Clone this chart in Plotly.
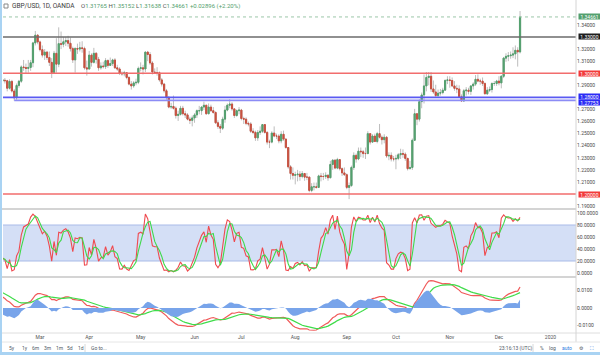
import plotly.graph_objects as go
import pandas as pd

# ---------------- data: GBP/USD daily, Jan 2 2019 .. Dec 13 2019 (business days) ----------------
open_ = [
 1.2750,1.2630,1.2630,1.2725,1.2785,1.2735,1.2745,1.2765,1.2845,1.2865,1.2870,1.2870,1.2995,1.2880,1.2875,1.2955,1.3045,1.3085,1.3190,1.3160,1.3085,1.3125,
 1.3115,1.3075,1.3040,1.2945,1.2935,1.2942,1.2938,1.2876,1.2932,1.2853,1.2797,1.2899,1.2934,1.3052,1.3047,1.3040,1.3048,1.3087,1.3251,1.3315,
 1.3259,1.3195,1.3150,1.3175,1.3130,1.3090,1.3005,1.3165,1.3075,1.3245,1.3240,1.3260,1.3270,1.3248,1.3204,1.3110,1.3205,1.3200,1.3210,1.3205,1.3045,
 1.3035,1.3150,1.3090,1.3165,1.3115,1.3045,1.3060,1.3055,1.3105,1.3065,1.3080,1.3110,1.3045,1.3035,1.3000,1.2995,1.3005,1.2965,1.2910,1.2895,1.2920,1.2925,
 1.3040,1.3045,1.3035,1.3175,1.3155,1.3085,1.3010,1.3005,1.3005,1.2945,1.2910,1.2855,1.2800,1.2720,1.2725,1.2710,1.2650,1.2660,1.2710,1.2665,1.2655,1.2620,1.2610,
 1.2630,1.2655,1.2690,1.2690,1.2720,1.2735,1.2665,1.2720,1.2690,1.2675,1.2590,1.2560,1.2545,1.2620,1.2695,1.2735,1.2745,1.2705,1.2650,1.2690,
 1.2695,1.2625,1.2620,1.2585,1.2580,1.2520,1.2510,1.2465,1.2510,1.2520,1.2575,1.2510,1.2430,1.2430,1.2505,1.2480,1.2480,1.2440,1.2495,1.2455,1.2385,1.2225,1.2170,
 1.2155,1.2160,1.2165,1.2145,1.2170,1.2140,1.2140,1.2030,1.2060,1.2060,1.2055,1.2150,1.2145,1.2145,1.2155,1.2135,1.2245,1.2280,1.2215,1.2285,1.2210,1.2175,
 1.2160,1.2055,1.2070,1.2220,1.2320,1.2290,1.2355,1.2350,1.2335,1.2335,1.2500,1.2430,1.2480,1.2435,1.2500,1.2470,1.2450,1.2470,1.2315,1.2320,1.2290,
 1.2290,1.2295,1.2325,1.2335,1.2330,1.2295,1.2210,1.2220,1.2445,1.2665,1.2620,1.2765,1.2820,1.2895,1.2965,1.2975,1.2870,1.2845,1.2815,1.2835,1.2840,1.2860,1.2940,
 1.2945,1.2940,1.2895,1.2875,1.2870,1.2805,1.2770,1.2855,1.2860,1.2850,1.2895,1.2910,1.2950,1.2935,1.2935,1.2915,1.2830,1.2860,1.2865,1.2915,1.2915,
 1.2935,1.2920,1.2975,1.3125,1.3140,1.3145,1.3150,1.3160,1.3190,1.31765]
high = [
 1.2770,1.2660,1.2740,1.2790,1.2790,1.2800,1.2790,1.2865,1.2890,1.2895,1.2895,1.3000,1.3000,1.2905,1.2990,1.3055,1.3115,1.3215,1.3215,1.3185,1.3145,1.3215,
 1.3130,1.3085,1.3050,1.2965,1.2975,1.2960,1.2945,1.2950,1.2945,1.2870,1.2915,1.2945,1.3065,1.3110,1.3080,1.3110,1.3110,1.3260,1.3350,1.3325,
 1.3270,1.3230,1.3200,1.3185,1.3180,1.3125,1.3185,1.3290,1.3380,1.3345,1.3300,1.3300,1.3310,1.3295,1.3220,1.3215,1.3245,1.3260,1.3265,1.3220,1.3105,
 1.3185,1.3165,1.3210,1.3175,1.3135,1.3090,1.3095,1.3125,1.3115,1.3130,1.3120,1.3125,1.3070,1.3050,1.3015,1.3020,1.3010,1.2975,1.2935,1.2935,1.2955,1.3055,
 1.3090,1.3070,1.3180,1.3185,1.3175,1.3100,1.3040,1.3050,1.3015,1.2960,1.2920,1.2870,1.2810,1.2755,1.2815,1.2725,1.2690,1.2730,1.2730,1.2690,1.2670,1.2640,1.2650,
 1.2670,1.2700,1.2730,1.2725,1.2765,1.2740,1.2750,1.2740,1.2720,1.2685,1.2610,1.2580,1.2640,1.2730,1.2750,1.2785,1.2760,1.2710,1.2700,1.2720,
 1.2705,1.2640,1.2635,1.2600,1.2595,1.2545,1.2525,1.2530,1.2560,1.2580,1.2580,1.2520,1.2450,1.2520,1.2560,1.2500,1.2495,1.2520,1.2525,1.2460,1.2390,1.2240,1.2220,
 1.2185,1.2200,1.2190,1.2190,1.2175,1.2175,1.2145,1.2090,1.2095,1.2095,1.2160,1.2175,1.2175,1.2180,1.2165,1.2275,1.2290,1.2290,1.2300,1.2290,1.2220,1.2220,
 1.2170,1.2095,1.2235,1.2345,1.2335,1.2385,1.2385,1.2365,1.2385,1.2520,1.2505,1.2495,1.2500,1.2515,1.2580,1.2485,1.2495,1.2480,1.2345,1.2345,1.2315,
 1.2325,1.2340,1.2375,1.2370,1.2345,1.2300,1.2275,1.2460,1.2705,1.2670,1.2785,1.2840,1.2990,1.3010,1.3010,1.3010,1.2940,1.2905,1.2865,1.2870,1.2880,1.2950,1.2975,
 1.2975,1.2965,1.2935,1.2905,1.2900,1.2825,1.2870,1.2885,1.2880,1.2900,1.2925,1.2985,1.2990,1.2955,1.2965,1.2925,1.2885,1.2890,1.2925,1.2935,1.2945,
 1.2975,1.2985,1.3135,1.3165,1.3175,1.3180,1.3215,1.3230,1.3215,1.35152]
low = [
 1.2595,1.2470,1.2620,1.2705,1.2700,1.2680,1.2700,1.2760,1.2815,1.2670,1.2810,1.2855,1.2865,1.2855,1.2860,1.2945,1.3010,1.3075,1.3120,1.3010,1.3065,1.3080,
 1.3040,1.3010,1.2920,1.2910,1.2920,1.2915,1.2850,1.2865,1.2840,1.2773,1.2780,1.2880,1.2920,1.3020,1.3000,1.3005,1.3020,1.3050,1.3230,1.3240,
 1.3180,1.3130,1.3110,1.3110,1.3060,1.2960,1.2995,1.3005,1.3050,1.3200,1.3215,1.3225,1.3220,1.3180,1.3085,1.3005,1.3160,1.3180,1.3170,1.3030,1.2980,
 1.3030,1.3055,1.3080,1.3080,1.3020,1.3030,1.3040,1.3035,1.3045,1.3060,1.3060,1.3035,1.3020,1.2985,1.2980,1.2975,1.2950,1.2900,1.2865,1.2880,1.2900,1.2910,
 1.3015,1.2990,1.3010,1.3100,1.3070,1.2990,1.2995,1.2980,1.2930,1.2890,1.2840,1.2780,1.2710,1.2705,1.2700,1.2625,1.2605,1.2650,1.2650,1.2630,1.2610,1.2580,1.2560,
 1.2590,1.2630,1.2660,1.2655,1.2695,1.2655,1.2660,1.2680,1.2665,1.2580,1.2540,1.2505,1.2530,1.2590,1.2685,1.2710,1.2690,1.2630,1.2640,1.2660,
 1.2610,1.2580,1.2570,1.2560,1.2505,1.2495,1.2440,1.2440,1.2490,1.2505,1.2500,1.2410,1.2380,1.2420,1.2470,1.2455,1.2420,1.2420,1.2440,1.2375,1.2210,1.2120,1.2120,
 1.2080,1.2105,1.2110,1.2130,1.2110,1.2115,1.2015,1.2015,1.2030,1.2045,1.2050,1.2105,1.2115,1.2125,1.2110,1.2130,1.2200,1.2205,1.2205,1.2195,1.2150,1.2150,
 1.2040,1.1958,1.2060,1.2200,1.2260,1.2280,1.2305,1.2300,1.2290,1.2330,1.2410,1.2425,1.2430,1.2420,1.2460,1.2410,1.2420,1.2300,1.2280,1.2270,1.2270,
 1.2205,1.2280,1.2290,1.2300,1.2275,1.2195,1.2205,1.2200,1.2440,1.2570,1.2600,1.2710,1.2750,1.2850,1.2900,1.2845,1.2830,1.2805,1.2805,1.2815,1.2825,1.2855,1.2910,
 1.2880,1.2885,1.2855,1.2835,1.2795,1.2765,1.2765,1.2815,1.2825,1.2820,1.2865,1.2895,1.2925,1.2905,1.2895,1.2825,1.2820,1.2845,1.2840,1.2895,1.2895,
 1.2900,1.2875,1.2960,1.3095,1.3100,1.3120,1.3125,1.3115,1.3055,1.31638]
close = [
 1.2630,1.2630,1.2725,1.2785,1.2735,1.2745,1.2765,1.2845,1.2865,1.2870,1.2870,1.2995,1.2880,1.2875,1.2955,1.3045,1.3085,1.3190,1.3160,1.3085,1.3125,1.3115,
 1.3075,1.3040,1.2945,1.2935,1.2946,1.2938,1.2876,1.2932,1.2853,1.2797,1.2899,1.2934,1.3052,1.3047,1.3040,1.3048,1.3087,1.3251,1.3315,1.3259,
 1.3195,1.3150,1.3175,1.3130,1.3090,1.3005,1.3165,1.3075,1.3245,1.3240,1.3260,1.3270,1.3248,1.3204,1.3110,1.3205,1.3200,1.3210,1.3205,1.3045,1.3035,
 1.3150,1.3090,1.3165,1.3115,1.3045,1.3060,1.3055,1.3105,1.3065,1.3080,1.3110,1.3045,1.3035,1.3000,1.2995,1.3005,1.2965,1.2910,1.2895,1.2920,1.2925,1.3040,
 1.3045,1.3035,1.3175,1.3155,1.3085,1.3010,1.3005,1.3005,1.2945,1.2910,1.2855,1.2800,1.2720,1.2725,1.2710,1.2650,1.2660,1.2710,1.2665,1.2655,1.2620,1.2610,1.2630,
 1.2655,1.2690,1.2690,1.2720,1.2735,1.2665,1.2720,1.2690,1.2675,1.2590,1.2560,1.2545,1.2620,1.2695,1.2735,1.2745,1.2705,1.2650,1.2690,1.2695,
 1.2625,1.2620,1.2585,1.2580,1.2520,1.2510,1.2465,1.2510,1.2520,1.2575,1.2510,1.2430,1.2430,1.2505,1.2480,1.2480,1.2440,1.2495,1.2455,1.2385,1.2225,1.2170,1.2155,
 1.2160,1.2165,1.2145,1.2170,1.2140,1.2140,1.2030,1.2060,1.2060,1.2055,1.2150,1.2145,1.2145,1.2155,1.2135,1.2245,1.2280,1.2215,1.2285,1.2210,1.2175,1.2160,
 1.2055,1.2070,1.2220,1.2320,1.2290,1.2355,1.2350,1.2335,1.2335,1.2500,1.2430,1.2480,1.2435,1.2500,1.2470,1.2450,1.2470,1.2315,1.2320,1.2290,1.2290,
 1.2295,1.2325,1.2335,1.2330,1.2295,1.2210,1.2220,1.2445,1.2665,1.2620,1.2765,1.2820,1.2895,1.2965,1.2975,1.2870,1.2845,1.2815,1.2835,1.2840,1.2860,1.2940,1.2945,
 1.2940,1.2895,1.2875,1.2870,1.2805,1.2770,1.2855,1.2860,1.2850,1.2895,1.2910,1.2950,1.2935,1.2935,1.2915,1.2830,1.2860,1.2865,1.2915,1.2915,1.2935,
 1.2920,1.2975,1.3125,1.3140,1.3145,1.3150,1.3160,1.3190,1.31765,1.34661]

# horizontal levels drawn on the chart: (price, line colour, tag colour, start date, tag shift px)
levels = [
    (1.33000, "#6b6b6b", "#1e1e1e", None, 0),
    (1.30000, "#f26d6d", "#f23a3a", None, 0),
    (1.28000, "#5a5af2", "#2b2bf5", None, 0.5),
    (1.27753, "#8c8cf5", "#2b2bf5", "2019-02-14", -2.5),
    (1.20000, "#f26d6d", "#f23a3a", None, 0),
]
last_price = 1.34661

price_ticks = [1.19, 1.20, 1.21, 1.22, 1.23, 1.24, 1.25, 1.26, 1.27, 1.28, 1.29, 1.30,
               1.31, 1.32, 1.33, 1.34]
stoch_ticks = [0, 20, 40, 60, 80, 100]
macd_ticks = [-0.01, 0.0, 0.01]
month_ticks = ["2019-03-01", "2019-04-01", "2019-05-01", "2019-06-03", "2019-07-01", "2019-08-01",
               "2019-09-02", "2019-10-01", "2019-11-01", "2019-12-02", "2020-01-01"]
month_labels = ["Mar", "Apr", "May", "Jun", "Jul", "Aug", "Sep", "Oct", "Nov", "Dec", "2020"]

dates = pd.bdate_range("2019-01-02", "2019-12-13")
o = pd.Series(open_, index=dates)
h = pd.Series(high, index=dates)
l = pd.Series(low, index=dates)
c = pd.Series(close, index=dates)

# indicators computed from the price data
hh = h.rolling(14, min_periods=1).max()
ll = l.rolling(14, min_periods=1).min()
stoch_k = 100 * (c - ll) / (hh - ll)
stoch_d = stoch_k.rolling(3, min_periods=1).mean()
ema12 = c.ewm(span=12, adjust=False).mean()
ema26 = c.ewm(span=26, adjust=False).mean()
macd = ema12 - ema26
signal = macd.ewm(span=9, adjust=False).mean()
hist = macd - signal

body_hi = [max(a, b) for a, b in zip(open_, close)]
body_lo = [min(a, b) for a, b in zip(open_, close)]

W, H = 600, 355
def py(px):  # pixel row -> paper fraction
    return (H - px) / H

UP, DN, WICK = "#53a06e", "#c8503f", "#bdbdbd"
X0, X1 = 3 / W, 576 / W
x_range = ["2019-02-07 04:48", "2020-01-15 21:36"]
breaks = [dict(bounds=["sat", "mon"])]

fig = go.Figure()
fig.add_trace(go.Candlestick(
    x=dates, open=open_, high=high, low=low, close=close,
    increasing=dict(line=dict(color=WICK, width=1), fillcolor=WICK),
    decreasing=dict(line=dict(color=WICK, width=1), fillcolor=WICK),
    whiskerwidth=0, hoverinfo="skip", showlegend=False, xaxis="x", yaxis="y"))
fig.add_trace(go.Candlestick(
    x=dates, open=open_, high=body_hi, low=body_lo, close=close,
    increasing=dict(line=dict(color=UP, width=1), fillcolor=UP),
    decreasing=dict(line=dict(color=DN, width=1), fillcolor=DN),
    whiskerwidth=0, hoverinfo="skip", showlegend=False, xaxis="x", yaxis="y"))

# stochastic
fig.add_trace(go.Scatter(x=dates, y=stoch_k, mode="lines", line=dict(color="#ef4a4f", width=1.1),
                         xaxis="x2", yaxis="y2", showlegend=False, hoverinfo="skip"))
fig.add_trace(go.Scatter(x=dates, y=stoch_d, mode="lines", line=dict(color="#3fd94a", width=1.1),
                         xaxis="x2", yaxis="y2", showlegend=False, hoverinfo="skip"))
# MACD
fig.add_trace(go.Scatter(x=dates, y=hist, mode="lines", line=dict(color="#78a4ea", width=0),
                         fill="tozeroy", fillcolor="#78a4ea",
                         xaxis="x3", yaxis="y4", showlegend=False, hoverinfo="skip"))
fig.add_trace(go.Scatter(x=dates, y=macd, mode="lines", line=dict(color="#f05a5a", width=1.2),
                         xaxis="x3", yaxis="y3", showlegend=False, hoverinfo="skip"))
fig.add_trace(go.Scatter(x=dates, y=signal, mode="lines", line=dict(color="#3fdc4a", width=1.2),
                         xaxis="x3", yaxis="y3", showlegend=False, hoverinfo="skip"))

axfont = dict(family="Roboto, Arial, sans-serif", size=5, color="#4a4a4a")
common_x = dict(domain=[X0, X1], range=x_range, rangebreaks=breaks, showgrid=False,
                zeroline=False, showline=False, ticks="", fixedrange=True)
y_main = [1.33 - (208 - 37) / 1208, 1.33 + (37 - 10) / 1208]
macd_rng = [-(333 - 308) / 1750, (308 - 278) / 1750]
tagged = [round(lv[0], 5) for lv in levels]
price_text = ["" if round(v, 5) in tagged else "%.5f" % v for v in price_ticks]

fig.update_layout(
    width=W, height=H, margin=dict(l=0, r=0, t=0, b=0),
    paper_bgcolor="white", plot_bgcolor="white",
    font=dict(family="Roboto, Arial, sans-serif"),
    xaxis=dict(common_x, anchor="y", showticklabels=False, rangeslider=dict(visible=False)),
    xaxis2=dict(common_x, anchor="y2", matches="x", showticklabels=False),
    xaxis3=dict(common_x, anchor="y3", matches="x", showticklabels=True,
                tickmode="array", tickvals=month_ticks, ticktext=month_labels,
                tickfont=dict(family="Roboto, Arial, sans-serif", size=5, color="#555")),
    yaxis=dict(domain=[py(208), py(10)], range=y_main, side="right", showgrid=False,
               zeroline=False, tickmode="array", tickvals=price_ticks,
               ticktext=price_text, tickfont=axfont, ticks="", fixedrange=True),
    yaxis2=dict(domain=[py(276), py(210)], range=[-5, 105], side="right", showgrid=False,
                zeroline=False, tickmode="array", tickvals=stoch_ticks,
                ticktext=["%.4f" % v for v in stoch_ticks], tickfont=axfont, ticks="",
                fixedrange=True),
    yaxis3=dict(domain=[py(333), py(278)], range=macd_rng, side="right", showgrid=False,
                zeroline=False, tickmode="array", tickvals=macd_ticks,
                ticktext=["%.4f" % v for v in macd_ticks], tickfont=axfont, ticks="",
                fixedrange=True),
    yaxis4=dict(overlaying="y3", anchor="x3", range=[v / 1.5 for v in macd_rng], visible=False,
                fixedrange=True),
)

shapes = []
# stochastic band
shapes.append(dict(type="rect", xref="x2 domain", x0=0, x1=1, yref="y2", y0=20, y1=80,
                   fillcolor="#d4dff6", line=dict(width=0), layer="below"))
for v in (20, 80):
    shapes.append(dict(type="line", xref="x2 domain", x0=0, x1=1, yref="y2", y0=v, y1=v,
                       line=dict(color="#a9bbe8", width=1), layer="below"))
# price levels
for price, lc, tc, start, sh in levels:
    shapes.append(dict(type="line", xref="x" if start else "x domain",
                       x0=start if start else 0, x1=x_range[1] if start else 1,
                       yref="y", y0=price, y1=price, line=dict(color=lc, width=1.6)))
shapes.append(dict(type="line", xref="x domain", x0=0, x1=1, yref="y", y0=last_price,
                   y1=last_price, line=dict(color="#9cc7a8", width=1, dash="dot")))
# pane separators and frame
for yy in (209, 277):
    shapes.append(dict(type="line", xref="paper", x0=0, x1=X1, yref="paper", y0=py(yy), y1=py(yy),
                       line=dict(color="#d4d4d4", width=2)))
shapes.append(dict(type="line", xref="paper", x0=0, x1=1, yref="paper", y0=py(333), y1=py(333),
                   line=dict(color="#dedede", width=1)))
shapes.append(dict(type="line", xref="paper", x0=X1, x1=X1, yref="paper", y0=py(342), y1=1,
                   line=dict(color="#d4d4d4", width=1)))
shapes.append(dict(type="line", xref="paper", x0=0, x1=1, yref="paper", y0=py(342), y1=py(342),
                   line=dict(color="#e6e6e6", width=1)))
shapes.append(dict(type="line", xref="paper", x0=1 / W, x1=1 / W, yref="paper", y0=0, y1=1,
                   line=dict(color="#a9d3f3", width=2)))
shapes.append(dict(type="line", xref="paper", x0=0, x1=1, yref="paper", y0=1.5 / H, y1=1.5 / H,
                   line=dict(color="#a9d3f3", width=3)))
shapes.append(dict(type="rect", xref="paper", yref="paper", x0=4 / W, x1=8 / W, y0=py(8), y1=py(4),
                   line=dict(color="#888", width=1)))
shapes.append(dict(type="line", xref="paper", x0=533 / W, x1=533 / W, yref="paper", y0=py(352),
                   y1=py(344), line=dict(color="#d8d8d8", width=1)))
shapes.append(dict(type="line", xref="paper", x0=85 / W, x1=85 / W, yref="paper", y0=py(352),
                   y1=py(344), line=dict(color="#d8d8d8", width=1)))

ann = []
tagfont = dict(family="Roboto, Arial, sans-serif", size=5, color="white")
def tag(price, color, shift=0):
    ann.append(dict(x=577.5 / W, xref="paper", xanchor="left", y=price, yref="y", yanchor="middle",
                    yshift=shift, text="%.5f" % price, showarrow=False, bgcolor=color,
                    font=tagfont, borderpad=0, width=21, height=5))
tag(last_price, UP)
for price, lc, tc, start, sh in levels:
    tag(price, tc, sh)

g = "#53a06e"
hdr = ("O<span style='color:%s'>1.31765</span> H<span style='color:%s'>1.35152</span> "
       "L<span style='color:%s'>1.31638</span> C<span style='color:%s'>1.34661</span> "
       "<span style='color:%s'>+0.02896 (+2.20%%)</span>") % (g, g, g, g, g)
ann.append(dict(x=10 / W, y=py(6), xref="paper", yref="paper", xanchor="left", yanchor="middle",
                text="GBP/USD, 1D, OANDA", showarrow=False,
                font=dict(family="Roboto, Arial, sans-serif", size=6.5, color="#3c3c3c")))
ann.append(dict(x=79 / W, y=py(6), xref="paper", yref="paper", xanchor="left", yanchor="middle",
                text=hdr, showarrow=False,
                font=dict(family="Roboto, Arial, sans-serif", size=6, color="#555")))

botfont = dict(family="Roboto, Arial, sans-serif", size=5, color="#4f5966")
for txt, xx in [("5y", 7), ("1y", 20), ("6m", 30), ("3m", 42), ("1m", 54), ("5d", 65),
                ("1d", 76), ("Go to...", 89)]:
    ann.append(dict(x=xx / W, y=py(348), xref="paper", yref="paper", xanchor="left",
                    yanchor="middle", text=txt, showarrow=False, font=botfont))
for txt, xx, col in [("23:16:13 (UTC)", 497, "#4f5966"), ("%", 538, "#4f5966"),
                     ("log", 547, "#4f5966"), ("auto", 560, "#2f7de1"), ("⚙", 577, "#4f5966"),
                     ("⛶", 588, "#2f7de1")]:
    ann.append(dict(x=xx / W, y=py(348), xref="paper", yref="paper", xanchor="left",
                    yanchor="middle", text=txt, showarrow=False,
                    font=dict(family="Roboto, DejaVu Sans, sans-serif", size=5, color=col)))

fig.update_layout(shapes=shapes, annotations=ann)
fig.write_html("out.html")
